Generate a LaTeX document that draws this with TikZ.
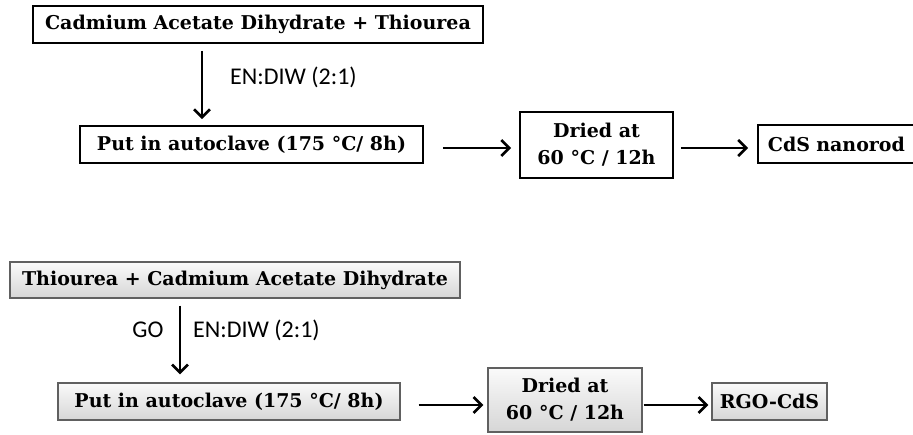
\documentclass[tikz,border=0pt]{standalone}
\usepackage{fontspec}
\setmainfont{DejaVu Serif}
\newfontfamily\lblfont{Carlito}
\usetikzlibrary{arrows.meta,shadings}
\begin{document}
\begin{tikzpicture}[x=1pt,y=-1pt,
  boxw/.style={draw=black, line width=1.8pt, fill=white, font=\bfseries\fontsize{19}{27}\selectfont, inner sep=0pt, align=center},
  boxg/.style={draw=gray!75!black, line width=1.3pt, top color=gray!4, bottom color=gray!32, font=\bfseries\fontsize{19}{27}\selectfont, inner sep=0pt, align=center},
  arr/.style={line width=2.6pt, -{Straight Barb[length=8pt,width=16pt,line width=2.6pt]}},
  lbl/.style={font=\lblfont\fontsize{24}{28}\selectfont, inner sep=0pt}]
\clip (0,0) rectangle (913,434);
\fill[white] (0,0) rectangle (913,434);
% top row
\node[boxw, minimum width=450pt, minimum height=37pt] (t1) at (258,24.5) {Cadmium Acetate Dihydrate + Thiourea};
\node[boxw, minimum width=343pt, minimum height=37pt] (t2) at (251.5,144.5) {Put in autoclave (175 °C/ 8h)};
\node[boxw, minimum width=153pt, minimum height=66pt] (t3) at (596.5,145) {Dried at\\60 °C / 12h};
\node[boxw, anchor=west, minimum height=38pt, text width=150pt, align=left, inner xsep=10pt] (t4) at (757,144) {CdS nanorod};
\coordinate (ta) at (202,0);
\draw[arr, shorten <=7pt, shorten >=6pt] (t1.south -| ta) -- (t2.north -| ta);
\node[lbl, anchor=west] (tl) at (230,77) {EN:DIW (2:1)};
\coordinate (ty) at (0,148);
\draw[arr, shorten <=19pt, shorten >=8pt] (t2.east |- ty) -- (t3.west |- ty);
\draw[arr, shorten <=7pt, shorten >=9pt] (t3.east |- ty) -- (t4.west |- ty);
% bottom row
\node[boxg, minimum width=450pt, minimum height=36pt] (b1) at (235,280) {Thiourea + Cadmium Acetate Dihydrate};
\node[boxg, minimum width=342pt, minimum height=37pt] (b2) at (229,401.5) {Put in autoclave (175 °C/ 8h)};
\node[boxg, minimum width=154pt, minimum height=64pt] (b3) at (565,400) {Dried at\\60 °C / 12h};
\node[boxg, minimum width=115pt, minimum height=37pt] (b4) at (769.5,401.5) {RGO-CdS};
\coordinate (ba) at (180,0);
\draw[arr, shorten <=7pt, shorten >=8pt] (b1.south -| ba) -- (b2.north -| ba);
\node[lbl] (bgo) at (148,330) {GO};
\node[lbl, anchor=west] (bl) at (193,330) {EN:DIW (2:1)};
\coordinate (by) at (0,405);
\draw[arr, shorten <=18pt, shorten >=4pt] (b2.east |- by) -- (b3.west |- by);
\draw[arr, shorten <=1pt, shorten >=3pt] (b3.east |- by) -- (b4.west |- by);
\end{tikzpicture}
\end{document}
